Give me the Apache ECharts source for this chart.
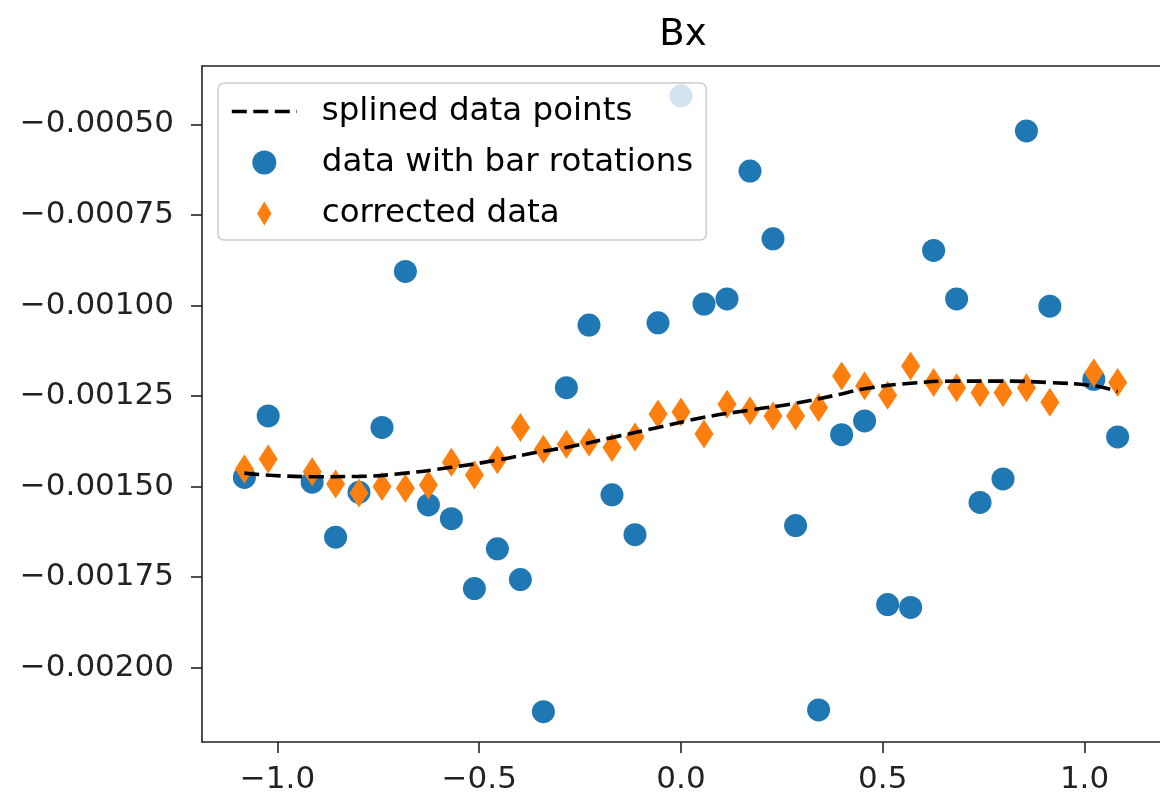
<!DOCTYPE html>
<html>
<head>
<meta charset="utf-8">
<title>Bx</title>
<script src="https://cdn.jsdelivr.net/npm/echarts@6/dist/echarts.min.js"></script>
<style>
  html, body { margin: 0; padding: 0; background: #fff; }
  #chart { width: 1160px; height: 795px; }
</style>
</head>
<body>
<div id="chart"></div>
<script>
// positions along the bar
const positions = [-1.082, -1.023, -0.914, -0.856, -0.798, -0.741, -0.683, -0.626, -0.569, -0.512,
  -0.455, -0.398, -0.341, -0.284, -0.228, -0.171, -0.114, -0.057, 0.0, 0.057,
  0.114, 0.171, 0.228, 0.284, 0.341, 0.398, 0.455, 0.512, 0.569, 0.626,
  0.683, 0.741, 0.798, 0.856, 0.914, 1.023, 1.082]

// data with bar rotations
const rawBx = [-0.001475, -0.001305, -0.001488, -0.00164, -0.001516, -0.001337, -0.000906, -0.001551, -0.001589, -0.001782,
  -0.001672, -0.001757, -0.002122, -0.001227, -0.001054, -0.001523, -0.001633, -0.001048, -0.000421, -0.000996,
  -0.000982, -0.000629, -0.000816, -0.001608, -0.002117, -0.001357, -0.001319, -0.001826, -0.001834, -0.000848,
  -0.000982, -0.001544, -0.001479, -0.000518, -0.001002, -0.001204, -0.001363]

// corrected data
const correctedBx = [-0.001452, -0.001424, -0.001459, -0.001493, -0.001518, -0.0015, -0.001505, -0.001496, -0.001433, -0.001468,
  -0.001426, -0.001337, -0.001397, -0.001383, -0.001378, -0.001392, -0.001363, -0.0013, -0.001294, -0.001355,
  -0.001273, -0.001291, -0.001305, -0.001305, -0.001282, -0.001195, -0.001222, -0.001248, -0.001167, -0.001213,
  -0.001227, -0.001241, -0.001241, -0.001227, -0.001267, -0.001186, -0.001213]

// splined curve
const splineX = [-1.082, -0.914, -0.798, -0.683, -0.569, -0.455, -0.35, -0.284, -0.171, -0.057,
  0.057, 0.171, 0.284, 0.395, 0.455, 0.569, 0.683, 0.798, 0.914, 1.023, 1.082]
const splineY = [-0.001463, -0.001473, -0.001472, -0.001463, -0.001447, -0.001427, -0.001404, -0.001392, -0.001365, -0.001337,
  -0.001309, -0.001289, -0.00127, -0.001245, -0.00123, -0.001215, -0.001209, -0.001209, -0.001213, -0.001222, -0.001238]

const xTicks = [-1.0, -0.5, 0.0, 0.5, 1.0]
const yTicks = [-0.0005, -0.00075, -0.001, -0.00125, -0.0015, -0.00175, -0.002]

const FONT = 'DejaVu Sans'
const X_MIN = -1.187
const X_MAX = 1.187
const pair = (xs, ys) => xs.map((x, i) => [x, ys[i]])
const minus = (v, digits) => (v < 0 ? '\u2212' : '') + Math.abs(v).toFixed(digits)
const spine = { show: true, onZero: false, lineStyle: { color: '#222', width: 1.6 } }
const dash = { color: '#000', width: 3.6, type: [15, 6.5] }

const chart = echarts.init(document.getElementById('chart'))
chart.setOption({
  animation: false,
  title: {
    text: 'Bx',
    left: 678,
    top: 12,
    textAlign: 'center',
    textStyle: { fontFamily: FONT, fontSize: 37, fontWeight: 'normal', color: '#000' }
  },
  grid: {
    left: 202,
    top: 66,
    width: 962,
    height: 678
  },
  legend: {
    orient: 'vertical',
    left: 218,
    top: 83,
    padding: [10, 13, 8, 12],
    itemWidth: 65,
    itemHeight: 24,
    itemGap: 14,
    backgroundColor: 'rgba(255,255,255,0.8)',
    borderColor: '#ccc',
    borderWidth: 1.5,
    borderRadius: 6,
    textStyle: { fontFamily: FONT, fontSize: 32.5, color: '#000', lineHeight: 37, padding: [0, 0, 0, 20] },
    data: [
      { name: 'splined data points', itemStyle: { opacity: 0 }, lineStyle: dash },
      'data with bar rotations',
      'corrected data'
    ]
  },
  xAxis: [
    {
      type: 'value',
      min: X_MIN,
      max: X_MAX,
      axisLine: spine,
      axisTick: { show: true, length: 11, lineStyle: { color: '#222', width: 1.6 }, customValues: xTicks },
      axisLabel: {
        fontFamily: FONT, fontSize: 31, color: '#222', margin: 22,
        customValues: xTicks,
        formatter: v => minus(v, 1)
      },
      splitLine: { show: false }
    },
    {
      // top spine of the frame
      type: 'value',
      position: 'top',
      min: X_MIN,
      max: X_MAX,
      axisLine: spine,
      axisTick: { show: false },
      axisLabel: { show: false },
      splitLine: { show: false }
    }
  ],
  yAxis: {
    type: 'value',
    min: -0.0022056,
    max: -0.0003387,
    axisLine: spine,
    axisTick: { show: true, length: 11, lineStyle: { color: '#222', width: 1.6 }, customValues: yTicks },
    axisLabel: {
      fontFamily: FONT, fontSize: 31, color: '#222', margin: 28,
      customValues: yTicks,
      formatter: v => minus(v, 5)
    },
    splitLine: { show: false }
  },
  series: [
    {
      name: 'splined data points',
      type: 'line',
      data: pair(splineX, splineY),
      smooth: true,
      symbol: 'none',
      z: 5,
      color: '#000',
      lineStyle: dash
    },
    {
      name: 'data with bar rotations',
      type: 'scatter',
      data: pair(positions, rawBx),
      symbol: 'circle',
      symbolSize: 23,
      z: 2,
      itemStyle: { color: '#1f77b4', opacity: 1 }
    },
    {
      name: 'corrected data',
      type: 'scatter',
      data: pair(positions, correctedBx),
      symbol: 'path://M6,0 L12,10 L6,20 L0,10 Z',
      symbolSize: [19, 29],
      z: 3,
      itemStyle: { color: '#ff7f0e', opacity: 1 }
    }
  ]
})
</script>
</body>
</html>
